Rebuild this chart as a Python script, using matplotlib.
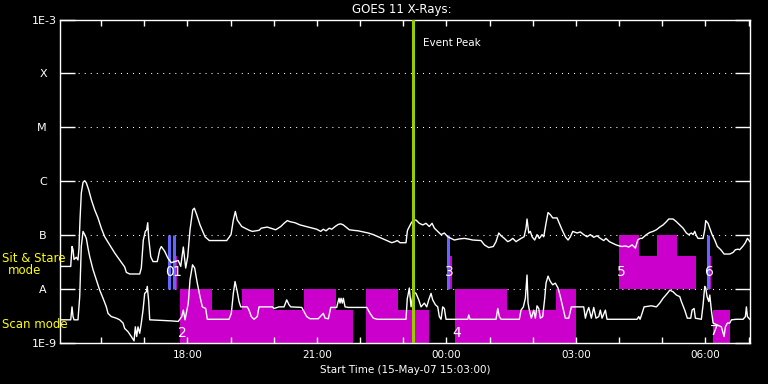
import matplotlib
matplotlib.use('Agg')
import matplotlib.pyplot as plt
import numpy as np
from matplotlib.ticker import NullLocator
from matplotlib.transforms import ScaledTranslation

# ---------------- data (time in minutes after 15-May-07 15:03:00) ----------------
long_t = [1.0, 14.9, 16.7, 18.1, 19.5, 22.7, 25.0, 26.4, 27.8, 29.6,
          32.0, 34.3, 36.6, 39.9, 43.5, 48.2, 52.8, 57.4, 62.1, 69.1,
          76.0, 83.0, 89.9, 92.2, 96.9, 110.8, 113.0, 115.8, 118.6, 120.5,
          121.9, 123.3, 126.1, 129.3, 135.2, 138.6, 140.8, 145.5, 150.1, 154.7,
          164.4, 167.8, 171.4, 174.7, 177.5, 180.7, 184.5, 186.7, 190.0, 194.6,
          201.6, 207.5, 231.7, 237.7, 240.9, 243.7, 246.4, 252.6, 263.1, 267.3,
          276.6, 279.8, 288.1, 292.9, 299.8, 306.8, 311.4, 315.9, 319.7, 326.7,
          333.6, 345.1, 356.8, 362.4, 366.0, 369.7, 374.3, 377.7, 382.3, 386.8,
          390.2, 393.8, 397.5, 402.1, 407.7, 414.6, 421.6, 428.5, 435.5, 442.4,
          449.4, 456.3, 461.1, 465.7, 468.8, 472.6, 480.9, 482.7, 483.3, 487.9,
          491.1, 494.8, 499.4, 504.2, 508.7, 513.3, 517.1, 520.3, 525.0, 529.6,
          534.2, 538.9, 543.5, 548.1, 555.0, 562.0, 566.7, 573.7, 585.2, 589.8,
          595.9, 602.3, 606.0, 609.8, 613.0, 617.6, 622.3, 625.5, 629.3, 633.8,
          640.8, 645.0, 647.7, 649.1, 651.5, 653.7, 656.1, 659.8, 663.0, 666.2,
          670.0, 672.3, 675.5, 678.3, 681.5, 684.8, 690.8, 694.0, 697.8, 702.4,
          706.1, 709.3, 712.7, 718.6, 723.2, 727.9, 732.5, 737.1, 741.8, 746.4,
          751.0, 755.7, 758.9, 763.5, 768.2, 772.8, 777.4, 781.2, 785.8, 790.5,
          795.1, 799.7, 803.0, 806.2, 809.0, 815.0, 819.7, 824.3, 828.9, 833.6,
          838.2, 842.8, 846.1, 852.1, 856.7, 861.4, 866.0, 870.6, 873.9, 877.5,
          879.9, 882.2, 884.5, 886.8, 893.8, 896.1, 897.5, 900.7, 903.1, 906.3,
          910.0, 913.6, 918.4, 923.0, 930.9, 935.5, 938.7, 942.4, 944.8, 949.4,
          952.6, 955.4, 957.3, 958.7]
long_logf = [-7.58, -7.58, -7.21, -7.27, -7.45, -7.41, -7.46, -7.24, -6.72, -6.22,
             -6.02, -5.99, -6.03, -6.16, -6.34, -6.53, -6.68, -6.87, -7.03, -7.18,
             -7.33, -7.46, -7.59, -7.69, -7.72, -7.72, -7.61, -7.09, -6.93, -6.90,
             -6.77, -7.06, -7.40, -7.49, -7.49, -7.27, -7.21, -7.30, -7.43, -7.51,
             -7.47, -7.58, -7.22, -7.61, -7.40, -6.90, -6.53, -6.50, -6.62, -6.81,
             -7.03, -7.10, -7.10, -6.99, -6.72, -6.56, -6.72, -6.84, -6.91, -6.93,
             -6.91, -6.87, -6.85, -6.87, -6.90, -6.84, -6.78, -6.73, -6.75, -6.77,
             -6.81, -6.85, -6.89, -6.93, -6.89, -6.92, -6.87, -6.89, -6.84, -6.80,
             -6.79, -6.81, -6.85, -6.90, -6.91, -6.92, -6.94, -6.96, -6.99, -7.03,
             -7.07, -7.11, -7.14, -7.12, -7.10, -7.14, -7.14, -6.93, -6.90, -6.78,
             -6.72, -6.72, -6.78, -6.81, -6.78, -6.84, -6.78, -6.87, -6.93, -6.99,
             -6.96, -7.03, -7.06, -7.09, -7.07, -7.06, -7.07, -7.09, -7.10, -7.18,
             -7.23, -7.21, -7.12, -6.96, -7.01, -7.06, -7.12, -7.10, -7.06, -7.12,
             -7.06, -7.03, -6.87, -6.70, -6.96, -6.93, -7.03, -7.09, -6.99, -7.06,
             -6.99, -7.03, -6.78, -6.58, -6.62, -6.68, -6.68, -6.78, -6.90, -7.03,
             -7.09, -7.03, -6.93, -6.96, -6.94, -6.99, -7.03, -6.99, -7.04, -7.01,
             -7.06, -7.10, -7.06, -7.12, -7.15, -7.18, -7.20, -7.21, -7.20, -7.22,
             -7.18, -7.24, -7.09, -7.06, -7.06, -6.99, -6.95, -6.93, -6.90, -6.85,
             -6.81, -6.75, -6.70, -6.70, -6.75, -6.81, -6.87, -6.96, -6.99, -6.96,
             -6.99, -6.93, -7.01, -7.06, -7.06, -6.90, -6.73, -6.78, -6.87, -6.99,
             -7.09, -7.21, -7.27, -7.35, -7.35, -7.32, -7.27, -7.26, -7.27, -7.20,
             -7.14, -7.06, -7.09, -7.12]

short_t = [1.0, 14.9, 16.7, 18.1, 19.5, 25.0, 27.4, 29.6, 32.0, 34.3,
           36.6, 38.9, 41.3, 45.9, 50.5, 55.2, 59.8, 64.4, 66.7, 71.3,
           78.3, 83.0, 87.6, 89.9, 94.5, 99.1, 102.9, 104.7, 106.6, 108.4,
           110.8, 113.0, 115.4, 117.7, 120.0, 121.3, 123.3, 124.7, 154.7, 164.4,
           169.2, 171.4, 173.8, 178.3, 180.7, 184.2, 187.2, 190.8, 194.6, 197.8,
           202.5, 204.7, 234.9, 238.1, 240.9, 243.3, 246.4, 248.8, 251.2, 260.3,
           262.7, 265.9, 269.7, 274.2, 276.6, 295.1, 297.5, 304.4, 311.4, 315.1,
           318.3, 320.7, 336.0, 339.2, 342.9, 347.5, 359.0, 366.0, 368.4, 373.0,
           376.3, 384.6, 386.0, 387.8, 389.2, 390.6, 392.4, 393.8, 396.2, 400.7,
           426.3, 430.9, 435.5, 441.0, 480.9, 482.7, 483.3, 485.5, 487.9, 491.1,
           494.8, 498.6, 501.8, 506.4, 509.7, 512.5, 515.7, 518.0, 521.7, 525.0,
           527.2, 529.6, 531.9, 534.2, 536.5, 566.7, 568.1, 569.9, 606.0, 608.4,
           610.6, 613.0, 638.4, 640.8, 644.0, 646.8, 649.1, 650.5, 652.3, 655.1,
           658.4, 660.7, 663.0, 665.4, 667.6, 670.9, 673.7, 675.5, 678.3, 681.5,
           684.8, 688.4, 692.2, 695.4, 698.7, 702.4, 707.1, 710.7, 727.9, 730.2,
           732.5, 734.9, 738.5, 741.8, 745.0, 748.8, 751.0, 753.4, 758.0, 760.3,
           802.0, 804.4, 806.2, 809.0, 811.8, 821.9, 828.9, 833.6, 838.2, 844.1,
           847.5, 852.1, 856.7, 861.4, 863.6, 868.3, 871.9, 876.6, 878.5, 881.3,
           883.1, 891.4, 893.8, 896.1, 897.5, 899.3, 901.7, 903.1, 905.3, 907.7,
           919.2, 923.0, 924.8, 927.6, 930.9, 933.2, 940.1, 949.4, 952.6, 954.0,
           955.4, 958.7]
short_logf = [-8.57, -8.57, -8.33, -8.51, -8.57, -8.57, -8.14, -7.21, -6.93, -6.99,
              -7.06, -7.24, -7.40, -7.64, -7.83, -8.02, -8.17, -8.33, -8.45, -8.51,
              -8.54, -8.57, -8.63, -8.73, -8.79, -8.88, -8.96, -8.70, -8.88, -8.70,
              -8.82, -8.63, -8.39, -8.08, -8.05, -7.95, -8.23, -8.57, -8.59, -8.60,
              -8.51, -8.39, -8.57, -8.26, -7.83, -7.55, -7.61, -7.89, -8.14, -8.33,
              -8.36, -8.56, -8.56, -8.45, -8.08, -7.86, -8.05, -8.23, -8.33, -8.33,
              -8.39, -8.51, -8.56, -8.51, -8.33, -8.33, -8.36, -8.33, -8.33, -8.20,
              -8.29, -8.33, -8.34, -8.42, -8.51, -8.55, -8.55, -8.45, -8.54, -8.55,
              -8.34, -8.34, -8.26, -8.17, -8.26, -8.17, -8.26, -8.17, -8.33, -8.34,
              -8.34, -8.45, -8.54, -8.56, -8.56, -8.17, -8.14, -7.98, -8.33, -8.05,
              -8.08, -8.20, -8.33, -8.26, -8.33, -8.20, -8.08, -8.20, -8.29, -8.33,
              -8.51, -8.56, -8.33, -8.36, -8.56, -8.56, -8.48, -8.56, -8.56, -8.36,
              -8.51, -8.56, -8.56, -8.39, -8.33, -8.17, -7.74, -8.26, -8.39, -8.54,
              -8.39, -8.54, -8.31, -8.36, -8.54, -8.51, -8.17, -7.89, -7.76, -7.86,
              -7.92, -7.89, -7.98, -8.14, -8.33, -8.54, -8.54, -8.33, -8.33, -8.54,
              -8.42, -8.34, -8.54, -8.34, -8.54, -8.51, -8.39, -8.54, -8.39, -8.56,
              -8.56, -8.51, -8.56, -8.45, -8.33, -8.31, -8.33, -8.26, -8.17, -8.08,
              -8.02, -8.05, -8.11, -8.14, -8.23, -8.39, -8.54, -8.54, -8.39, -8.36,
              -8.54, -8.56, -8.29, -7.95, -7.98, -8.14, -8.23, -8.11, -8.39, -8.63,
              -8.70, -8.88, -8.70, -8.63, -8.63, -8.57, -8.56, -8.56, -8.51, -8.33,
              -8.51, -8.56]

# Scan-mode coverage blocks: start, end (minutes), top (log10 flux)
scan_start = [167, 211, 253, 298, 339, 384, 425, 470, 549, 621, 689, 908]
scan_end = [211, 253, 298, 339, 384, 407, 470, 513, 621, 689, 717, 931]
scan_top = [-8.0, -8.39, -8.0, -8.39, -8.0, -8.39, -8.0, -8.39, -8.0, -8.39, -8.0, -8.39]

# Sit & Stare coverage blocks
ss_start = [158.5, 539.3, 777, 805, 830, 858, 900.7]
ss_end = [162.6, 544.9, 805, 830, 858, 884, 904.9]
ss_top = [-7.38, -7.38, -7.0, -7.38, -7.0, -7.38, -7.38]

# Sit & Stare pointing marks (blue)
blue_t = [150.8, 158.5, 539.3, 900.7]

# Observation numbers
obs_labels = ['0', '1', '2', '3', '4', '5', '6', '7']
obs_t = [151.5, 162.5, 170.0, 541.0, 551.0, 780.0, 903.0, 910.0]
obs_logf = [-7.68, -7.68, -8.81, -7.68, -8.81, -7.68, -7.68, -8.78]

peak_t = 490.7
band_levels = [1e-8, 1e-7, 1e-6, 1e-5, 1e-4]
ytick_vals = [1e-9, 1e-8, 1e-7, 1e-6, 1e-5, 1e-4, 1e-3]
ytick_labels = ['1E-9', 'A', 'B', 'C', 'M', 'X', '1E-3']
xtick_vals = [177, 357, 537, 717, 897]
xtick_labels = ['18:00', '21:00', '00:00', '03:00', '06:00']
xminor_vals = [57 + 60 * k for k in range(16)]

# ---------------- figure ----------------
W, H = 768, 384
fig = plt.figure(figsize=(7.68, 3.84), dpi=100, facecolor='black')
ax = fig.add_axes([60 / W, (384 - 343) / H, (750 - 60) / W, (343 - 19.5) / H])
ax.set_facecolor('black')
ax.set_yscale('log')
ax.set_ylim(1e-9, 1e-3)
ax.set_xlim(0, 959)

for lv in band_levels:
    ax.axhline(lv, color='white', lw=0.75, linestyle=(0, (1, 4.8)), zorder=0.5)

MAG = '#cc00cc'
for s, e, tp in zip(scan_start, scan_end, scan_top):
    ax.bar(s, 10 ** tp - 1e-9, bottom=1e-9, width=e - s, align='edge',
           color=MAG, lw=0, zorder=1)
for s, e, tp in zip(ss_start, ss_end, ss_top):
    ax.bar(s, 10 ** tp - 1e-8, bottom=1e-8, width=e - s, align='edge',
           color=MAG, lw=0, zorder=1)
ax.vlines(blue_t, 1e-8, 1e-7, color='#6464ff', lw=2.2, zorder=2)

ax.plot(long_t, 10 ** np.array(long_logf), color='white', lw=1.0, zorder=3)
ax.plot(short_t, 10 ** np.array(short_logf), color='white', lw=1.0, zorder=3)

for lab, t, lf in zip(obs_labels, obs_t, obs_logf):
    ax.text(t, 10 ** lf, lab, color='white', fontsize=10, ha='center', va='center', zorder=5)

ax.axvline(peak_t, color='#99cc00', lw=2.2, zorder=4)
ax.text(504, 10 ** -3.43, 'Event Peak', color='white', fontsize=7.5, ha='left', va='center')

# axes styling
for sp in ax.spines.values():
    sp.set_color('white')
    sp.set_linewidth(1)
ax.set_yticks(ytick_vals)
ax.set_yticklabels(ytick_labels)
ax.yaxis.set_minor_locator(NullLocator())
ax.tick_params(axis='y', which='major', direction='in', length=10.8, width=1,
               color='white', left=True, right=True, labelcolor='white',
               labelsize=8, pad=2)
for lbl in ax.get_yticklabels():
    if len(lbl.get_text()) == 1:
        lbl.set_transform(lbl.get_transform() +
                          ScaledTranslation(-7.5 / 72, 0, fig.dpi_scale_trans))

ax.set_xticks(xtick_vals)
ax.set_xticklabels(xtick_labels)
ax.set_xticks([v for v in xminor_vals if v not in xtick_vals], minor=True)
ax.tick_params(axis='x', which='both', direction='in', length=4.3, width=1,
               color='white', top=True, bottom=True, labelcolor='white',
               labelsize=7.5, pad=5)

fig.text(402 / W, 1 - 10 / H, 'GOES 11 X-Rays:', ha='center', va='center',
         color='white', fontsize=8.5)
fig.text(405 / W, 1 - 370 / H, 'Start Time (15-May-07 15:03:00)', ha='center',
         va='center', color='white', fontsize=7.5)
fig.text(2 / W, 1 - 259 / H, 'Sit & Stare', ha='left', va='center', color='yellow', fontsize=8.5)
fig.text(24.5 / W, 1 - 271 / H, 'mode', ha='center', va='center', color='yellow', fontsize=8.5)
fig.text(2 / W, 1 - 324 / H, 'Scan mode', ha='left', va='center', color='yellow', fontsize=8.5)

fig.savefig('out.png', dpi=100, facecolor='black')
